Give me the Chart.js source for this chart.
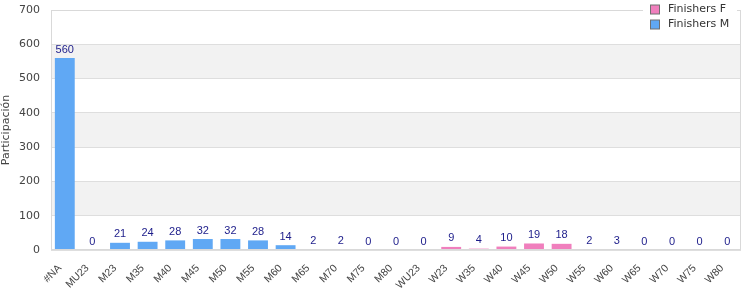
<!DOCTYPE html>
<html>
<head>
<meta charset="utf-8">
<script src="https://cdn.jsdelivr.net/npm/chart.js@4/dist/chart.umd.min.js"></script>
<style>
  html, body { margin: 0; padding: 0; background: #fff; }
  #wrap { width: 750px; height: 300px; }
</style>
</head>
<body>
<div id="wrap"><canvas id="chart"></canvas></div>
<script>
// categories and values
const categories = ['#NA', 'MU23', 'M23', 'M35', 'M40', 'M45', 'M50', 'M55', 'M60', 'M65', 'M70', 'M75', 'M80',
    'WU23', 'W23', 'W35', 'W40', 'W45', 'W50', 'W55', 'W60', 'W65', 'W70', 'W75', 'W80'];
const finishersF = [null, null, null, null, null, null, null, null, null, null, null, null, null,
    0, 9, 4, 10, 19, 18, 2, 3, 0, 0, 0, 0];
const finishersM = [560, 0, 21, 24, 28, 32, 32, 28, 14, 2, 2, 0, 0,
    null, null, null, null, null, null, null, null, null, null, null, null];
const yTicks = [0, 100, 200, 300, 400, 500, 600, 700];

const colorF = '#f07fbd';
const colorM = '#60a8f4';

// alternating grey bands behind the grid
const bandsPlugin = {
    id: 'bands',
    beforeDraw(chart) {
        const { ctx, chartArea, scales } = chart;
        ctx.save();
        ctx.fillStyle = '#f2f2f2';
        for (let i = 1; i < yTicks.length - 1; i += 2) {
            const top = scales.y.getPixelForValue(yTicks[i + 1]);
            const bottom = scales.y.getPixelForValue(yTicks[i]);
            ctx.fillRect(chartArea.left, top, chartArea.right - chartArea.left, bottom - top);
        }
        ctx.restore();
    }
};

// value labels above each bar
const valueLabels = {
    id: 'valueLabels',
    afterDatasetsDraw(chart) {
        const { ctx } = chart;
        ctx.save();
        ctx.font = '11px "Liberation Sans", Arial, sans-serif';
        ctx.fillStyle = '#1c1c8a';
        ctx.textAlign = 'center';
        ctx.textBaseline = 'bottom';
        chart.data.datasets.forEach((ds, i) => {
            chart.getDatasetMeta(i).data.forEach((bar, j) => {
                if (ds.data[j] === null) return;
                ctx.fillText(String(ds.data[j]), bar.x, bar.y - 3);
            });
        });
        ctx.restore();
    }
};

// plot border + legend box in the top right corner
const frameLegend = {
    id: 'frameLegend',
    afterDraw(chart) {
        const { ctx, chartArea } = chart;
        ctx.save();
        ctx.strokeStyle = '#d9d9d9';
        ctx.lineWidth = 1;
        ctx.strokeRect(chartArea.left + 0.5, chartArea.top + 0.5,
            chartArea.right - chartArea.left - 1, chartArea.bottom - chartArea.top - 1);

        ctx.fillStyle = '#fff';
        ctx.fillRect(643, 0, 94, 32);
        const items = chart.data.datasets.map(d => ({ label: d.label, color: d.backgroundColor }));
        ctx.font = '11px "DejaVu Sans", sans-serif';
        ctx.textBaseline = 'middle';
        items.forEach((it, i) => {
            const y = 9.5 + i * 15;
            ctx.fillStyle = it.color;
            ctx.fillRect(650.5, y - 4.5, 9, 9);
            ctx.strokeStyle = '#707070';
            ctx.strokeRect(650.5, y - 4.5, 9, 9);
            ctx.fillStyle = '#333';
            ctx.fillText(it.label, 668, y);
        });
        ctx.restore();
    }
};

new Chart(document.getElementById('chart'), {
    type: 'bar',
    data: {
        labels: categories,
        datasets: [
            { label: 'Finishers F', data: finishersF, backgroundColor: colorF, skipNull: true },
            { label: 'Finishers M', data: finishersM, backgroundColor: colorM, skipNull: true }
        ]
    },
    options: {
        responsive: true,
        maintainAspectRatio: false,
        animation: false,
        layout: { padding: { top: 10, right: 9, left: 0, bottom: 0 } },
        datasets: { bar: { barPercentage: 0.9, categoryPercentage: 0.8, skipNull: true } },
        plugins: { legend: { display: false }, tooltip: { enabled: false } },
        scales: {
            x: {
                grid: { display: false },
                border: { display: false },
                ticks: {
                    color: '#444',
                    font: { family: '"Liberation Sans", Arial, sans-serif', size: 10.5 },
                    maxRotation: 45, minRotation: 45, autoSkip: false, padding: 4, labelOffset: -5
                },
                afterFit(scale) {
                    scale.height = 50;
                    scale.paddingLeft = 0;
                    scale.paddingRight = 0;
                }
            },
            y: {
                min: 0, max: 700,
                grid: { color: '#dedede', drawTicks: false },
                border: { display: false },
                ticks: {
                    stepSize: 100, color: '#444', padding: 11,
                    font: { family: '"DejaVu Sans", sans-serif', size: 11 }
                },
                title: {
                    display: true, text: 'Participación', color: '#444',
                    font: { family: '"DejaVu Sans", sans-serif', size: 11 }, padding: 0
                },
                afterFit(scale) {
                    scale.width = 51;
                    scale.paddingTop = 0;
                    scale.paddingBottom = 0;
                }
            }
        }
    },
    plugins: [bandsPlugin, valueLabels, frameLegend]
});
</script>
</body>
</html>
